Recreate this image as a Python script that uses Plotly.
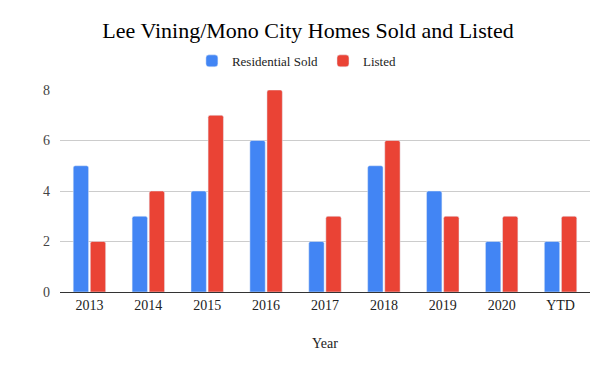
import plotly.graph_objects as go

years = ["2013", "2014", "2015", "2016", "2017", "2018", "2019", "2020", "YTD"]
sold = [5, 3, 4, 6, 2, 5, 4, 2, 2]
listed = [2, 4, 7, 8, 3, 6, 3, 3, 3]

font = "Liberation Serif, DejaVu Serif, serif"

fig = go.Figure()
fig.add_bar(x=years, y=sold, name="Residential Sold", marker=dict(color="#4285F4", cornerradius=2))
fig.add_bar(x=years, y=listed, name="Listed", marker=dict(color="#EA4335", cornerradius=2))

fig.update_layout(
    width=600, height=371,
    margin=dict(l=52, r=18, t=82, b=87),
    paper_bgcolor="white", plot_bgcolor="white",
    font=dict(family=font, size=13, color="#222"),
    title=dict(text="Lee Vining/Mono City Homes Sold and Listed", x=0.5, xanchor="center",
               y=0.94, yanchor="middle", font=dict(size=22, color="#000", family=font)),
    legend=dict(orientation="h", x=0.447, xanchor="center", y=1.144, yanchor="middle",
                font=dict(size=13, color="#222"), itemwidth=30),
    barmode="group", bargap=0.42, bargroupgap=0.1,
    showlegend=True,
)
fig.update_xaxes(title=dict(text="Year", font=dict(size=14, color="#222"), standoff=26),
                 showline=True, linecolor="#333", linewidth=1, ticks="",
                 tickfont=dict(size=14, color="#222"))
fig.update_yaxes(range=[0, 8], tickvals=[0, 2, 4, 6, 8], showgrid=True, gridcolor="#cccccc",
                 zeroline=False, tickfont=dict(size=14, color="#444"), ticklabelstandoff=9)

fig.write_html("out.html")
